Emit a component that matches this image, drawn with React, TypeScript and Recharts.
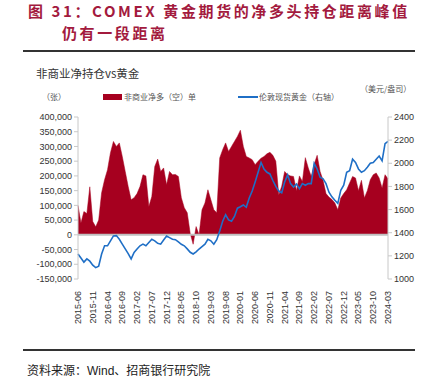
import React from "react";
import { ComposedChart, Area, Line, XAxis, YAxis, ReferenceLine } from "recharts";

// months 2015-06 .. 2024-03
const months: string[] = [];
for (let y = 2015; y <= 2024; y++) {
  for (let m = 1; m <= 12; m++) {
    if ((y === 2015 && m < 6) || (y === 2024 && m > 3)) continue;
    months.push(`${y}-${String(m).padStart(2, "0")}`);
  }
}

// 非商业净多（空）单, thousands of contracts
const netPosition = [
  100, 40, 79, 72, 163, 45, 27, 50, 143, 187,
  221, 279, 317, 300, 312, 266, 215, 164, 119, 126,
  140, 164, 204, 200, 96, 130, 232, 257, 215, 227,
  170, 215, 204, 205, 198, 126, 92, 75, 5, -32,
  28, 0, 85, 108, 153, 119, 85, 75, 261, 289,
  312, 283, 300, 317, 334, 355, 300, 266, 261, 255,
  238, 250, 260, 266, 275, 280, 270, 250, 135, 165,
  215, 204, 200, 198, 150, 200, 181, 262, 227, 198,
  240, 270, 215, 185, 140, 128, 120, 108, 85, 125,
  140, 153, 176, 198, 193, 150, 185, 125, 150, 187,
  204, 210, 193, 159, 204, 190,
];

// 伦敦现货黄金, USD/oz
const goldPrice = [
  1216, 1182, 1146, 1174, 1154, 1120, 1098, 1110, 1216, 1287,
  1287, 1330, 1372, 1375, 1343, 1301, 1260, 1220, 1174, 1230,
  1259, 1287, 1301, 1287, 1315, 1343, 1330, 1308, 1301, 1337,
  1372, 1358, 1343, 1340, 1320, 1300, 1287, 1260, 1231, 1216,
  1235, 1259, 1280, 1301, 1343, 1330, 1301, 1340, 1414, 1499,
  1555, 1510, 1499, 1540, 1612, 1625, 1640, 1620, 1700, 1760,
  1838, 1922, 2007, 1950, 1922, 1908, 1851, 1800, 1760, 1745,
  1838, 1900, 1824, 1795, 1820, 1781, 1824, 1810, 1824, 1824,
  2000, 1951, 1880, 1866, 1824, 1750, 1710, 1680, 1654, 1767,
  1810, 1922, 1936, 2035, 2007, 1951, 1922, 1936, 1965, 2000,
  2007, 2035, 2063, 2021, 2170, 2190,
];

const leftTicks = [-150000, -100000, -50000, 0, 50000, 100000, 150000, 200000, 250000, 300000, 350000, 400000];
const rightTicks = [1000, 1200, 1400, 1600, 1800, 2000, 2200, 2400];

const data = months.map((date, i) => ({
  date,
  net: netPosition[i] * 1000,
  gold: goldPrice[i],
}));

const RED = "#a6001f";
const BLUE = "#1f6fc6";
const TITLE = "#a31a3e";
const CJK = "'Noto Sans CJK SC', sans-serif";
const LATIN = "'Liberation Sans', Arial, sans-serif";

const XTick = (props: any) => {
  const { x, y, payload } = props;
  return (
    <text
      x={x}
      y={y}
      transform={`rotate(-90, ${x}, ${y})`}
      dx={-4}
      dy={3}
      textAnchor="end"
      fontSize={9}
      fill="#333"
      fontFamily={LATIN}
    >
      {payload.value}
    </text>
  );
};

export default function App() {
  return (
    <div style={{ position: "absolute", left: 0, top: 0, width: 432, height: 386, background: "#fff" }}>
      <div
        style={{
          position: "absolute",
          left: 28,
          top: 0,
          fontFamily: CJK,
          fontWeight: 700,
          fontSize: 15,
          color: TITLE,
          whiteSpace: "nowrap",
          lineHeight: "22px",
          letterSpacing: 2.6,
        }}
      >
        图 31：COMEX 黄金期货的净多头持仓距离峰值
        <br />
        <span style={{ paddingLeft: 34 }}>仍有一段距离</span>
      </div>
      <div style={{ position: "absolute", left: 23, top: 50, width: 392, height: 2, background: "#333" }} />
      <div style={{ position: "absolute", left: 36, top: 65, fontFamily: CJK, fontSize: 11.5, color: "#333", whiteSpace: "nowrap" }}>
        非商业净持仓vs黄金
      </div>
      <div style={{ position: "absolute", left: 360, top: 83, fontFamily: CJK, fontSize: 8, color: "#555", whiteSpace: "nowrap" }}>
        （美元/盎司）
      </div>
      <div style={{ position: "absolute", left: 42, top: 91, fontFamily: CJK, fontSize: 8, color: "#555", whiteSpace: "nowrap" }}>
        （张）
      </div>
      <div style={{ position: "absolute", left: 103, top: 94, width: 19, height: 6, background: RED }} />
      <div style={{ position: "absolute", left: 124, top: 91, fontFamily: CJK, fontSize: 8, color: "#555", whiteSpace: "nowrap" }}>
        非商业净多（空）单
      </div>
      <div style={{ position: "absolute", left: 238, top: 96, width: 20, height: 2, background: BLUE }} />
      <div style={{ position: "absolute", left: 259, top: 91, fontFamily: CJK, fontSize: 8, color: "#555", whiteSpace: "nowrap" }}>
        伦敦现货黄金（右轴）
      </div>

      <div style={{ position: "absolute", left: 0, top: 0 }}>
        <ComposedChart width={432} height={340} data={data} margin={{ top: 117, right: 0, bottom: 11, left: 0 }}>
          <XAxis
            dataKey="date"
            interval={4}
            tick={<XTick />}
            tickLine={false}
            axisLine={false}
            height={50}
          />
          <YAxis
            yAxisId="left"
            width={78}
            domain={[-150000, 400000]}
            ticks={leftTicks}
            tickFormatter={(v: number) => v.toLocaleString("en-US")}
            tick={{ fontSize: 9, fill: "#333", fontFamily: LATIN }}
            tickSize={4}
            stroke="#c8c8c8"
            interval={0}
          />
          <YAxis
            yAxisId="right"
            orientation="right"
            width={44}
            domain={[1000, 2400]}
            ticks={rightTicks}
            tick={{ fontSize: 9, fill: "#333", fontFamily: LATIN }}
            tickSize={4}
            stroke="#c8c8c8"
            interval={0}
          />
          <Area
            yAxisId="left"
            type="linear"
            dataKey="net"
            baseValue={0}
            fill={RED}
            fillOpacity={1}
            stroke={RED}
            strokeWidth={0.5}
            isAnimationActive={false}
          />
          <ReferenceLine yAxisId="left" y={0} stroke="#c0c0c0" strokeWidth={2} />
          <Line
            yAxisId="right"
            type="linear"
            dataKey="gold"
            stroke={BLUE}
            strokeWidth={1.6}
            dot={false}
            isAnimationActive={false}
          />
        </ComposedChart>
      </div>

      <div style={{ position: "absolute", left: 23, top: 349, width: 392, height: 2, background: "#333" }} />
      <div style={{ position: "absolute", left: 27, top: 361, fontFamily: CJK, fontSize: 12, color: "#222", whiteSpace: "nowrap" }}>
        资料来源：<span style={{ fontFamily: LATIN }}>Wind</span>、招商银行研究院
      </div>
    </div>
  );
}
